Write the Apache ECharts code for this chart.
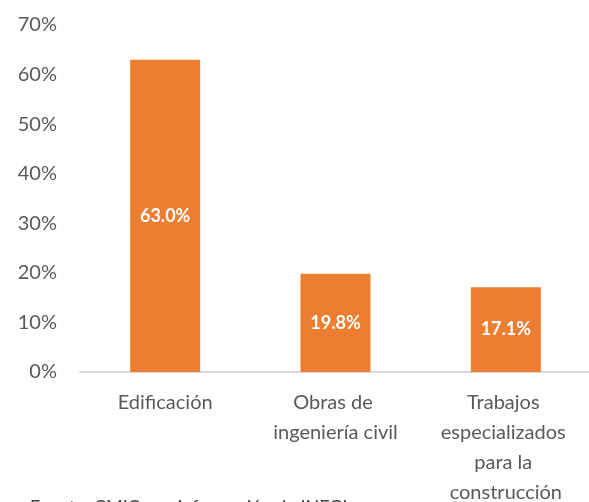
<!DOCTYPE html>
<html>
<head>
<meta charset="utf-8">
<script src="https://cdn.jsdelivr.net/npm/echarts@6/dist/echarts.min.js"></script>
<style>html,body{margin:0;padding:0;background:#fff;}#c{width:589px;height:502px;}</style>
</head>
<body>
<div id="c"></div>
<script>
const categories = ["Edificación", "Obras de ingeniería civil", "Trabajos especializados para la construcción"];
const values = [63.0, 19.8, 17.1];
const yTicks = [0, 10, 20, 30, 40, 50, 60, 70];
const sourceNote = "Fuente: CMIC con información de INEGI";

const chart = echarts.init(document.getElementById('c'), null, {renderer: 'canvas'});
chart.setOption({
  animation: false,
  backgroundColor: '#ffffff',
  grid: {left: 80, right: -2, top: 25, bottom: 130, containLabel: false, outerBoundsMode: 'none'},
  xAxis: {
    type: 'category',
    data: categories,
    axisLine: {show: true, lineStyle: {color: '#d9d9d9', width: 2}},
    axisTick: {show: false},
    axisLabel: {
      color: '#595959', fontFamily: 'Lato', fontSize: 20, lineHeight: 30,
      margin: 16, width: 150, overflow: 'break', interval: 0
    }
  },
  yAxis: {
    type: 'value',
    min: yTicks[0], max: yTicks[yTicks.length - 1], interval: 10,
    axisLine: {show: false},
    axisTick: {show: false},
    splitLine: {show: false},
    axisLabel: {
      color: '#595959', fontFamily: 'Lato', fontSize: 20, margin: 23,
      formatter: v => v + '%'
    }
  },
  series: [{
    type: 'bar',
    data: values,
    barWidth: 70,
    itemStyle: {color: '#ED7D31'},
    label: {
      show: true, position: 'inside', color: '#ffffff',
      fontFamily: 'Lato', fontWeight: 'bold', fontSize: 18,
      formatter: p => p.value.toFixed(1) + '%'
    }
  }],
  graphic: [{
    type: 'text', left: 30, top: 498,
    style: {text: sourceNote, fill: '#404040', font: '18px Lato'}
  }]
});
</script>
</body>
</html>
